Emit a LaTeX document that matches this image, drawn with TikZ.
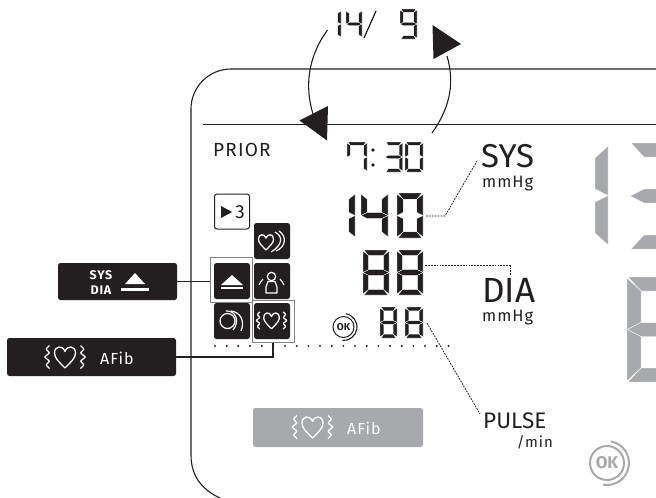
\documentclass[tikz,border=0pt]{standalone}
\usepackage{fontspec}
\setmainfont{Fira Sans}
\newfontfamily\spaced[LetterSpace=6]{Fira Sans}
\usepackage{tikz}

\definecolor{keydark}{HTML}{231F20}
\definecolor{lcdgray}{HTML}{A7A9AC}
\definecolor{framegray}{HTML}{7F8184}

% seven segments, \dw \dh \dt \dm are set by \segdigit
\def\sega{(1,0) -- (\dw-1,0) -- (\dw-\dt,\dt) -- (\dt,\dt) -- cycle}
\def\segb{(\dw,1) -- (\dw,\dm) -- (\dw-\dt,\dm-\dt/2) -- (\dw-\dt,\dt) -- cycle}
\def\segc{(\dw,\dm) -- (\dw,\dh-1) -- (\dw-\dt,\dh-\dt) -- (\dw-\dt,\dm+\dt/2) -- cycle}
\def\segd{(1,\dh) -- (\dw-1,\dh) -- (\dw-\dt,\dh-\dt) -- (\dt,\dh-\dt) -- cycle}
\def\sege{(0,\dm) -- (0,\dh-1) -- (\dt,\dh-\dt) -- (\dt,\dm+\dt/2) -- cycle}
\def\segf{(0,1) -- (0,\dm) -- (\dt,\dm-\dt/2) -- (\dt,\dt) -- cycle}
\def\segg{(0,\dm) -- (\dt,\dm-\dt/2) -- (\dw-\dt,\dm-\dt/2) -- (\dw,\dm) -- (\dw-\dt,\dm+\dt/2) -- (\dt,\dm+\dt/2) -- cycle}

% x, y, width, height, thickness, segments, colour
\newcommand{\segdigit}[7]{
	\begin{scope}[shift={(#1,#2)}]
		\def\dw{#3}\def\dh{#4}\def\dt{#5}
		\pgfmathsetmacro\dm{#4/2}
		\foreach \s in {#6}{
			\fill[#7,draw=white,line width=.35pt,line join=round] \csname seg\s\endcsname;
		}
	\end{scope}
}

% x, y, scale, colour
\newcommand{\heartmark}[4]{
	\begin{scope}[shift={(#1,#2)},scale=#3]
		\draw[#4,line width=1.3pt,line join=round] (0,11) .. controls (-6,5) and (-10.5,1) .. (-10.5,-4) .. controls (-10.5,-11.5) and (-2,-12) .. (0,-5.5) .. controls (2,-12) and (10.5,-11.5) .. (10.5,-4) .. controls (10.5,1) and (6,5) .. (0,11) -- cycle;
	\end{scope}
}
\newcommand{\afibmark}[4]{
	\heartmark{#1}{#2}{#3}{#4}
	\begin{scope}[shift={(#1,#2)},scale=#3]
		\draw[#4,line width=1.3pt,rounded corners=.6pt] (-15.5,-11.5) -- (-19,-8) -- (-15.5,-4) -- (-20.5,0) -- (-15.5,4) -- (-19,8) -- (-15.5,11.5);
		\draw[#4,line width=1.3pt,rounded corners=.6pt] (15.5,-11.5) -- (19,-8) -- (15.5,-4) -- (20.5,0) -- (15.5,4) -- (19,8) -- (15.5,11.5);
	\end{scope}
}

\tikzset{
	keybox/.style={fill=keydark,rounded corners=2.5pt,inner sep=0pt},
	iconbox/.style={keybox,minimum width=36pt,minimum height=36pt},
	hiframe/.style={draw=framegray,line width=1pt,inner sep=0pt},
	leader/.style={line width=.8pt,dash pattern=on 1.8pt off 1.1pt},
	label/.style={inner sep=0pt,text=keydark},
	flow/.style={keydark,line width=1.1pt},
}

\begin{document}
\begin{tikzpicture}[x=1pt,y=-1pt]
	\useasboundingbox (0,0) rectangle (656,498);
	\clip (0,0) rectangle (656,498);

	% panel
	\draw[keydark,line width=1.1pt,rounded corners=40pt] (660,69) -- (191,69) [sharp corners] -- (191,455) .. controls (191,478) and (204,491) .. (222,499);
	\coordinate (ruleL) at (203,124.5);
	\coordinate (ruleR) at (656,124.5);
	\draw[keydark,line width=1.6pt] (ruleL) -- (ruleR);

	% top readout
	\segdigit{325}{10}{16}{28}{3.4}{b,c}{keydark}
	\segdigit{346}{10}{16}{28}{3.4}{f,g,b,c}{keydark}
	\coordinate (slashA) at (376,11);
	\coordinate (slashB) at (364,38);
	\draw[keydark,line width=1.2pt] (slashA) -- (slashB);
	\segdigit{400}{9}{17}{30}{3.4}{a,b,c,d,f,g}{keydark}

	% turning arrows
	\coordinate (turnLa) at (327.5,30);
	\coordinate (turnLb) at (313,114);
	\coordinate (turnRa) at (432,133);
	\coordinate (turnRb) at (447,56);
	\draw[flow] (turnLa) .. controls (307,58) and (305,88) .. (turnLb);
	\draw[flow] (turnRa) .. controls (452,105) and (454,80) .. (turnRb);
	\fill[keydark] (299.5,120.5) -- (328,106) -- (327,140.5) -- cycle;
	\fill[keydark] (461,44) -- (432.5,25) -- (433.5,59) -- cycle;

	% left column
	\node[label,anchor=west,font=\spaced\fontsize{19}{21}\selectfont] (prior) at (213,150) {PRIOR};
	\segdigit{347}{142}{20}{30}{3.4}{a,f,b,c}{keydark}
	\fill[keydark] (373,150) circle (1.9) (373,165) circle (1.9);
	\segdigit{385}{142}{17.5}{30}{3.4}{a,b,g,c,d}{keydark}
	\segdigit{405}{142}{18}{30}{3.4}{a,b,c,d,e,f}{keydark}

	\segdigit{329}{193}{26}{45}{6.2}{b,c}{keydark}
	\segdigit{361}{193}{27}{45}{6.2}{f,g,b,c}{keydark}
	\segdigit{397}{193}{26}{45}{6.2}{a,b,c,d,e,f}{keydark}

	\segdigit{363}{250}{26}{45}{5.6}{a,b,c,d,e,f,g}{keydark}
	\segdigit{397}{250}{26}{45}{5.6}{a,b,c,d,e,f,g}{keydark}

	\segdigit{380}{307}{17}{31}{3.8}{a,b,c,d,e,f,g}{keydark}
	\segdigit{405}{307}{18}{31}{3.8}{a,b,c,d,e,f,g}{keydark}

	% big grey digits, cut by the edge
	\segdigit{544}{145}{64}{101}{13}{b,c}{lcdgray}
	\segdigit{630}{143}{70}{106}{14}{a,g,d}{lcdgray}
	\segdigit{627}{277}{70}{105}{14}{a,g,d,e,f}{lcdgray}

	% labels
	\node[label,anchor=west,font=\fontsize{33}{35}\selectfont] (syslabel) at (481,156) {SYS};
	\node[label,anchor=west,font=\spaced\fontsize{16.5}{18}\selectfont] (sysunit) at (482,183.5) {mmHg};
	\node[label,anchor=west,font=\fontsize{35}{37}\selectfont] (dialabel) at (482,290) {DIA};
	\node[label,anchor=west,font=\spaced\fontsize{16.5}{18}\selectfont] (diaunit) at (482,318) {mmHg};
	\node[label,anchor=west,font=\fontsize{22.5}{24}\selectfont] (pulselabel) at (483,420.5) {PULSE};
	\node[label,anchor=east,font=\spaced\fontsize{15}{17}\selectfont] (pulseunit) at (553,442) {/min};

	% leaders
	\coordinate (sysfrom) at (426,216);
	\coordinate (sysbend) at (445,216);
	\coordinate (systo) at (477,161);
	\draw[leader,keydark] (sysfrom) -- (sysbend) -- (systo);
	\coordinate (diafrom) at (425,265.5);
	\coordinate (diabend) at (510,265.5);
	\coordinate (diato) at (510,276);
	\draw[leader,keydark] (diafrom) -- (diabend) -- (diato);
	\coordinate (pulsefrom) at (427,323);
	\coordinate (pulseto) at (480,414);
	\draw[leader,keydark] (pulsefrom) -- (pulseto);

	% dots
	\foreach \i in {0,...,20}{
		\fill[keydark] (215+11.67*\i,346) circle (1.1);
	}

	% round marks
	\node[circle,draw=keydark,line width=1pt,minimum size=21pt,inner sep=0pt,text=keydark,font=\fontsize{10}{11}\selectfont\bfseries] (okdark) at (343.5,327) {OK};
	\draw[keydark,line width=1.1pt] (okdark.center) ++(-80:13.5) arc[start angle=-80,end angle=95,radius=13.5];
	\node[circle,draw=lcdgray,line width=2pt,minimum size=34pt,inner sep=0pt,text=lcdgray,font=\fontsize{17}{18}\selectfont\bfseries] (okgray) at (607,463) {OK};
	\draw[lcdgray,line width=2pt] (okgray.center) ++(-80:22) arc[start angle=-80,end angle=100,radius=22];

	% icon squares
	\node[draw=keydark,line width=1pt,fill=white,rounded corners=2.5pt,minimum width=35pt,minimum height=35pt,inner sep=0pt] (replaybox) at (232,211.5) {};
	\fill[keydark] (221,206) -- (232,212) -- (221,218) -- cycle;
	\node[label,font=\fontsize{19}{20}\selectfont] (replaynum) at (240,212) {3};

	\node[iconbox] (heartbox) at (272,241) {};
	\node[iconbox] (ejectbox) at (232,281) {};
	\node[iconbox] (personbox) at (272,281) {};
	\node[iconbox] (cuffbox) at (232,321) {};
	\node[iconbox] (afibbox) at (272,321) {};

	\node[hiframe,minimum width=42pt,minimum height=45pt] (ejectframe) at (231.5,279.5) {};
	\node[hiframe,minimum width=42pt,minimum height=42pt] (afibframe) at (273,321) {};

	% icon contents
	\heartmark{266}{242}{.72}{white}
	\draw[white,line width=1.2pt] (275,232) .. controls (283,236) and (283,245) .. (271,252);
	\draw[white,line width=1.2pt] (279,231) .. controls (287,236) and (286,247) .. (276,251);

	\fill[white] (232,275) -- (243,285) -- (221,285) -- cycle;
	\fill[white] (221,287) rectangle (243,289);

	\draw[white,line width=1.2pt] (271.5,276.5) circle (4.2);
	\draw[white,line width=1.2pt,line join=round] (266,293) -- (266,287) -- (268,281.5) -- (275,281.5) -- (277,287) -- (277,293) -- cycle;
	\draw[white,line width=1.1pt] (263,279) .. controls (261,281) and (260,283) .. (259,285);
	\draw[white,line width=1.1pt] (280,279) .. controls (282,281) and (283,283) .. (284,285);

	\draw[white,line width=1.2pt] (227.5,321) circle (7.5);
	\draw[white,line width=1.2pt] (226,311) .. controls (236,310) and (240,322) .. (233,330);
	\draw[white,line width=1.2pt] (231,311) .. controls (241,312) and (245,322) .. (241,331);

	\afibmark{271.5}{320.5}{.75}{white}

	% keys
	\node[keybox,minimum width=119pt,minimum height=37pt] (sysdiakey) at (117.5,281.5) {};
	\node[inner sep=0pt,text=white,font=\spaced\fontsize{12.5}{13}\selectfont\bfseries] (syskey) at (101,275.5) {SYS};
	\node[inner sep=0pt,text=white,font=\spaced\fontsize{12.5}{13}\selectfont\bfseries] (diakey) at (101,290.5) {DIA};
	\fill[white] (135,273) -- (145,284) -- (125,284) -- cycle;
	\fill[white] (121,288) rectangle (149,291);

	\node[keybox,minimum width=169pt,minimum height=38pt] (afibkey) at (91.5,357) {};
	\afibmark{65}{357}{1}{white}
	\node[inner sep=0pt,text=white,anchor=west,font=\spaced\fontsize{16}{17}\selectfont] (afibtext) at (100,358) {AFib};

	\node[keybox,fill=lcdgray,minimum width=170pt,minimum height=39pt] (afibgray) at (338,427.5) {};
	\afibmark{312.5}{427}{1}{white}
	\node[inner sep=0pt,text=white,anchor=west,font=\spaced\fontsize{16}{17}\selectfont] (afibgraytext) at (347,428) {AFib};

	% connectors
	\draw[flow] (sysdiakey.east) -- (sysdiakey.east -| ejectframe.west);
	\draw[flow] (afibkey.east) -| (afibframe.south);

\end{tikzpicture}
\end{document}
